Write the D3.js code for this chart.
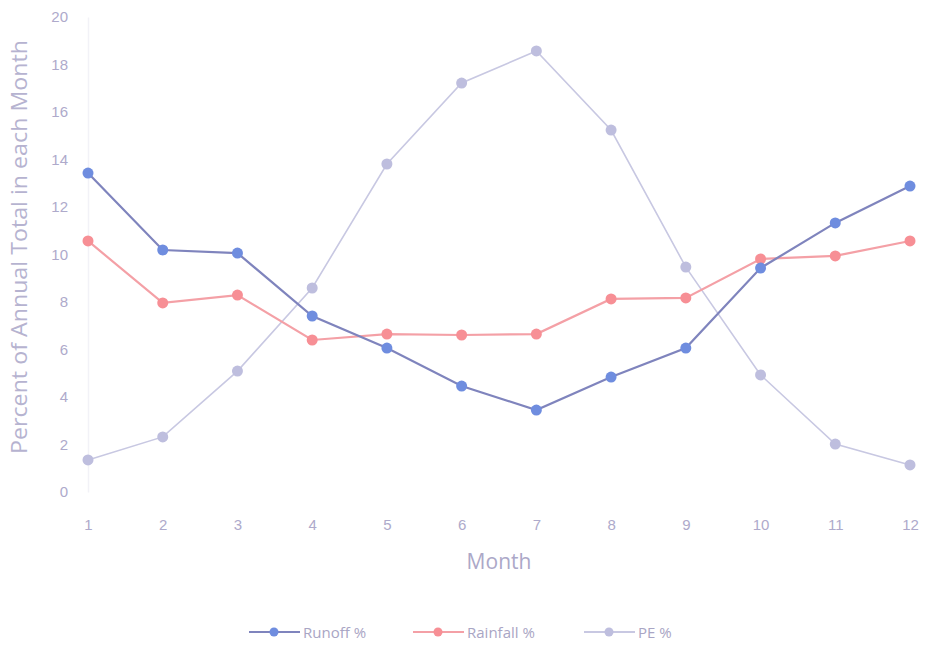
<!DOCTYPE html>
<html><head><meta charset="utf-8">
<script src="https://cdn.jsdelivr.net/npm/d3@7"></script>
<style>html,body{margin:0;padding:0;background:#fff;}svg{display:block;font-family:"Open Sans","Liberation Sans",sans-serif;}</style>
</head><body>
<svg id="c" width="929" height="646"></svg>
<script>
const months = [1,2,3,4,5,6,7,8,9,10,11,12];
const runoff = [13.43,10.19,10.06,7.41,6.06,4.46,3.45,4.84,6.06,9.43,11.33,12.88];
const rainfall = [10.57,7.96,8.29,6.4,6.65,6.61,6.65,8.13,8.17,9.81,9.94,10.57];
const pe = [1.35,2.32,5.09,8.59,13.81,17.22,18.57,15.24,9.47,4.93,2.02,1.14];
const yTicks = [0,2,4,6,8,10,12,14,16,18,20];
const seriesNames = ["Runoff %","Rainfall %","PE %"];

const series = [
  {name: seriesNames[0], values: runoff, line: "#7f84bd", marker: "#6f8ddf"},
  {name: seriesNames[1], values: rainfall, line: "#f4a0a6", marker: "#f78f95"},
  {name: seriesNames[2], values: pe, line: "#c8c8e2", marker: "#bebede"}
];

const svg = d3.select("#c");
const x = d3.scaleLinear().domain([1,12]).range([88,910]);
const y = d3.scaleLinear().domain([0,20]).range([492,17]);
const textColor = "#aeaacb";

// y axis
const yAxis = svg.append("g").attr("transform","translate(88,0)")
  .call(d3.axisLeft(y).tickValues(yTicks).tickSize(0).tickPadding(20));
yAxis.select(".domain").attr("stroke","#f2f2f7").attr("stroke-width",1.5);
yAxis.selectAll("text").attr("fill",textColor).attr("font-size",15);

// x axis
const xAxis = svg.append("g").attr("transform","translate(0,511)")
  .call(d3.axisBottom(x).tickValues(months).tickSize(0).tickPadding(8));
xAxis.select(".domain").remove();
xAxis.selectAll("text").attr("fill",textColor).attr("font-size",15);

// titles
svg.append("text").attr("transform","translate(27,247) rotate(-90)")
  .attr("text-anchor","middle").attr("fill","#b6b3d0").attr("font-size",21)
  .attr("textLength",414).attr("lengthAdjust","spacingAndGlyphs")
  .text("Percent of Annual Total in each Month");
svg.append("text").attr("x",499).attr("y",569).attr("text-anchor","middle")
  .attr("fill","#aca8c8").attr("font-size",21).text("Month");

// series (draw PE first, then rainfall, then runoff)
const line = d3.line().x((d,i)=>x(months[i])).y(d=>y(d));
[2,1,0].forEach(k=>{
  const s = series[k];
  const g = svg.append("g");
  g.append("path").datum(s.values).attr("d",line).attr("fill","none")
    .attr("stroke",s.line).attr("stroke-width", k===2?1.6:2.2);
  g.selectAll("circle").data(s.values).join("circle")
    .attr("cx",(d,i)=>x(months[i])).attr("cy",d=>y(d)).attr("r",5.5)
    .attr("fill",s.marker);
});

// legend
const legX = [249, 413, 584];
const lg = svg.append("g").attr("transform","translate(0,632)");
series.forEach((s,i)=>{
  const g = lg.append("g").attr("transform",`translate(${legX[i]},0)`);
  g.append("line").attr("x1",0).attr("x2",51).attr("y1",0).attr("y2",0)
    .attr("stroke",s.line).attr("stroke-width",2);
  g.append("circle").attr("cx",25).attr("cy",0).attr("r",4.5).attr("fill",s.marker);
  g.append("text").attr("x",54).attr("y",5.5).attr("fill","#a9a5c4").attr("font-size",15).text(s.name);
});
</script>
</body></html>
